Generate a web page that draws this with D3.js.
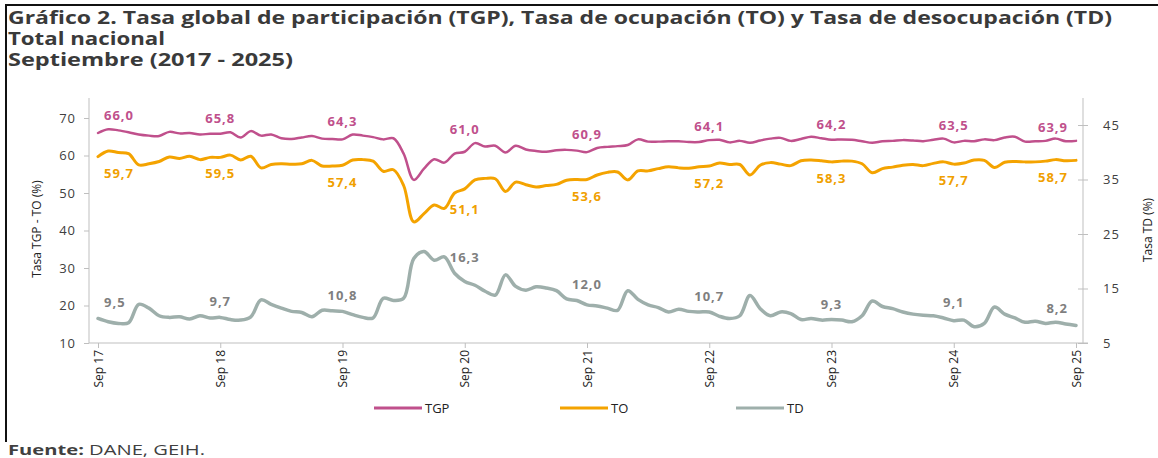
<!DOCTYPE html>
<html>
<head>
<meta charset="utf-8">
<script src="https://cdn.jsdelivr.net/npm/d3@7"></script>
<style>
  body { margin: 0; background: #fff; }
  svg text { font-family: "Open Sans", sans-serif; }
</style>
</head>
<body>
<script>
// tick labels (every September)
var tickLabels = ["Sep 17", "Sep 18", "Sep 19", "Sep 20", "Sep 21", "Sep 22", "Sep 23", "Sep 24", "Sep 25"];

// monthly values, Sep 2017 .. Sep 2025 (97 months)
var tgp = [
  66.0, 67.0, 66.7, 66.2, 65.6, 65.3, 65.2, 66.3, 65.9, 66.0, 65.6, 65.8,
  65.8, 66.2, 64.8, 66.5, 65.3, 65.6, 64.6, 64.4, 64.8, 65.2, 64.5, 64.4,
  64.3, 65.6, 65.3, 64.9, 64.3, 64.6, 60.5, 53.5, 56.5, 59.0, 58.1, 60.5,
  61.0, 63.3, 62.4, 62.6, 60.8, 62.6, 61.6, 61.2, 61.0, 61.4, 61.5, 61.3,
  60.9, 62.0, 62.3, 62.5, 62.8, 64.3, 63.7, 63.7, 63.8, 63.8, 63.6, 63.6,
  64.1, 64.2, 63.5, 63.9, 63.4, 64.0, 64.5, 64.7, 63.9, 64.4, 65.0, 64.6,
  64.2, 64.3, 64.2, 63.8, 63.4, 63.8, 63.9, 64.1, 64.0, 63.8, 64.2, 64.5,
  63.5, 63.9, 63.8, 64.3, 64.1, 64.8, 65.0, 63.7, 63.8, 63.9, 64.5, 63.8,
  63.9
];
var to = [
  59.7, 61.2, 60.8, 60.5, 57.5, 57.8, 58.4, 59.6, 59.2, 59.8, 58.9, 59.5,
  59.5, 60.1, 58.8, 59.8, 56.7, 57.6, 57.8, 57.7, 57.8, 58.7, 57.2, 57.2,
  57.4, 58.8, 58.9, 58.5, 55.8, 56.2, 52.0, 42.3, 44.5, 46.8, 45.9, 50.0,
  51.1, 53.5, 53.9, 53.8, 50.4, 52.9, 52.2, 51.6, 52.0, 52.3, 53.4, 53.6,
  53.6, 54.8, 55.5, 55.6, 53.5, 55.9, 55.9, 56.5, 57.0, 56.7, 56.6, 57.0,
  57.2, 58.0, 57.6, 57.6, 54.8, 57.4, 58.1, 57.7, 57.3, 58.6, 58.8, 58.6,
  58.3, 58.5, 58.5, 57.8, 55.4, 56.5, 56.9, 57.4, 57.6, 57.3, 57.9, 58.3,
  57.7, 58.0, 58.8, 58.7, 56.8, 58.2, 58.4, 58.3, 58.3, 58.5, 58.9, 58.6,
  58.7
];
var td = [
  9.5, 8.9, 8.6, 8.7, 12.1, 11.4, 10.0, 9.7, 9.8, 9.4, 10.0, 9.6,
  9.7, 9.3, 9.2, 9.8, 12.9, 12.1, 11.4, 10.8, 10.6, 9.8, 11.0, 10.9,
  10.8, 10.2, 9.7, 9.6, 13.2, 12.8, 13.2, 20.5, 21.8, 20.2, 20.8, 17.8,
  16.3, 15.6, 14.5, 13.8, 17.5, 15.4, 14.7, 15.3, 15.1, 14.6, 13.1, 12.8,
  12.0, 11.8, 11.4, 11.0, 14.6, 13.0, 12.0, 11.5, 10.7, 11.2, 10.8, 10.7,
  10.7, 9.9, 9.5, 10.0, 13.7, 11.3, 10.0, 10.7, 10.4, 9.3, 9.5, 9.2,
  9.3, 9.2, 8.9, 10.0, 12.7, 11.7, 11.3, 10.7, 10.3, 10.1, 10.0, 9.6,
  9.1, 9.2, 8.0, 8.6, 11.6, 10.3, 9.6, 8.8, 9.0, 8.6, 8.8, 8.5,
  8.2
];

var leftTicks = [10, 20, 30, 40, 50, 60, 70];
var rightTicks = [5, 15, 25, 35, 45];

var colTGP = "#c0508c", colTO = "#f4a300", colTD = "#9eafab";
var axisCol = "#bfbfbf", textCol = "#404040";

var svg = d3.select("body").append("svg")
  .attr("width", 1158)
  .attr("height", 458);

// frame
svg.append("line").attr("x1", 6).attr("x2", 1158).attr("y1", 5).attr("y2", 5)
  .attr("stroke", "#111").attr("stroke-width", 2);
svg.append("line").attr("x1", 6).attr("x2", 6).attr("y1", 4).attr("y2", 442)
  .attr("stroke", "#111").attr("stroke-width", 2);

// title
var titles = [
  ["Gráfico 2. Tasa global de participación (TGP), Tasa de ocupación (TO) y Tasa de desocupación (TD)", 24, 1104],
  ["Total nacional", 45, 157],
  ["Septiembre (2017 - 2025)", 66, 285]
];
titles.forEach(function (t) {
  svg.append("text")
    .attr("x", 8).attr("y", t[1])
    .attr("font-size", 17).attr("font-weight", "bold")
    .attr("fill", "#3a3a3a")
    .attr("textLength", t[2]).attr("lengthAdjust", "spacingAndGlyphs")
    .text(t[0]);
});

// scales
var x = d3.scaleLinear().domain([0, 96]).range([98, 1076]);
var yL = d3.scaleLinear().domain([10, 70]).range([343, 118]);
var yR = d3.scaleLinear().domain([5, 45]).range([343, 125]);

// axis lines
svg.append("line").attr("x1", 89).attr("x2", 89).attr("y1", 98).attr("y2", 343)
  .attr("stroke", axisCol);
svg.append("line").attr("x1", 1083).attr("x2", 1083).attr("y1", 98).attr("y2", 343)
  .attr("stroke", axisCol);
svg.append("line").attr("x1", 89).attr("x2", 1088).attr("y1", 343).attr("y2", 343)
  .attr("stroke", axisCol);

// left axis
var gl = svg.append("g").attr("transform", "translate(89,0)")
  .call(d3.axisLeft(yL).tickValues(leftTicks).tickSize(5).tickPadding(8));
gl.select(".domain").remove();
gl.selectAll("line").attr("stroke", axisCol);
gl.selectAll("text").attr("font-size", 13).attr("fill", textCol)
  .attr("font-family", "DejaVu Sans").attr("letter-spacing", "1px");

// right axis (ticks cross the axis)
var gr = svg.append("g").attr("transform", "translate(1083,0)")
  .call(d3.axisRight(yR).tickValues(rightTicks).tickSize(5).tickPadding(15));
gr.select(".domain").remove();
gr.selectAll("line").attr("stroke", axisCol).attr("x1", -5);
gr.selectAll("text").attr("font-size", 13).attr("fill", textCol)
  .attr("font-family", "DejaVu Sans").attr("letter-spacing", "1px");

// bottom axis
var gb = svg.append("g").attr("transform", "translate(0,343)")
  .call(d3.axisBottom(x).tickValues(d3.range(0, 97, 12)).tickSize(5)
    .tickFormat(function (d, i) { return tickLabels[i]; }));
gb.select(".domain").remove();
gb.selectAll("line").attr("stroke", axisCol);
gb.selectAll("text")
  .attr("font-size", 12).attr("fill", "#222")
  .attr("text-anchor", "end")
  .attr("transform", "rotate(-90)")
  .attr("x", -7).attr("y", 0).attr("dy", "0.35em");

// axis titles
svg.append("text")
  .attr("transform", "translate(41,229) rotate(-90)")
  .attr("text-anchor", "middle").attr("font-size", 12).attr("fill", "#222")
  .text("Tasa TGP - TO (%)");
svg.append("text")
  .attr("transform", "translate(1152,230) rotate(-90)")
  .attr("text-anchor", "middle").attr("font-size", 12).attr("fill", "#222")
  .text("Tasa TD (%)");

// lines
var series = [
  { vals: td, scale: yR, color: colTD, width: 3.5 },
  { vals: to, scale: yL, color: colTO, width: 3 },
  { vals: tgp, scale: yL, color: colTGP, width: 2.5 }
];
series.forEach(function (s) {
  var line = d3.line()
    .x(function (d, i) { return x(i); })
    .y(function (d) { return s.scale(d); })
    .curve(d3.curveCatmullRom.alpha(0.5));
  svg.append("path")
    .datum(s.vals)
    .attr("fill", "none")
    .attr("stroke", s.color)
    .attr("stroke-width", s.width)
    .attr("stroke-linejoin", "round")
    .attr("stroke-linecap", "round")
    .attr("d", line);
});

// data labels each September
function fmt(v) { return v.toFixed(1).replace(".", ","); }
function nbrY(vals, i, scale, above) {
  var ys = [i - 1, i, i + 1].filter(function (j) { return j >= 0 && j < vals.length; })
    .map(function (j) { return scale(vals[j]); });
  return above ? d3.min(ys) : d3.max(ys);
}
var labelSets = [
  { vals: tgp, scale: yL, color: "#c0508c", above: true, off: -9 },
  { vals: to, scale: yL, color: "#f0a000", above: false, off: 21 },
  { vals: td, scale: yR, color: "#7f7f7f", above: true, off: -11 }
];
labelSets.forEach(function (s) {
  d3.range(0, 97, 12).forEach(function (i) {
    var anchor = "middle", lx = x(i);
    if (i === 0) { anchor = "start"; lx = x(i) + 6; }
    if (i === 96) { anchor = "end"; lx = x(i) - 8; }
    svg.append("text")
      .attr("x", lx)
      .attr("y", nbrY(s.vals, i, s.scale, s.above) + s.off)
      .attr("text-anchor", anchor)
      .attr("font-family", "DejaVu Sans")
      .attr("font-size", 13).attr("font-weight", "bold")
      .attr("letter-spacing", "1px")
      .attr("fill", s.color)
      .text(fmt(s.vals[i]));
  });
});

// legend
var legend = [["TGP", colTGP, 374], ["TO", colTO, 560], ["TD", colTD, 736]];
legend.forEach(function (l) {
  svg.append("line")
    .attr("x1", l[2]).attr("x2", l[2] + 48)
    .attr("y1", 408).attr("y2", 408)
    .attr("stroke", l[1]).attr("stroke-width", 3);
  svg.append("text")
    .attr("x", l[2] + 51).attr("y", 408).attr("dy", "0.35em")
    .attr("font-size", 13).attr("fill", "#222")
    .text(l[0]);
});

// source
var src = svg.append("text").attr("x", 8).attr("y", 455)
  .attr("font-size", 14).attr("fill", textCol)
  .attr("textLength", 197).attr("lengthAdjust", "spacingAndGlyphs");
src.append("tspan").attr("font-weight", "bold").text("Fuente:");
src.append("tspan").text(" DANE, GEIH.");
</script>
</body>
</html>
